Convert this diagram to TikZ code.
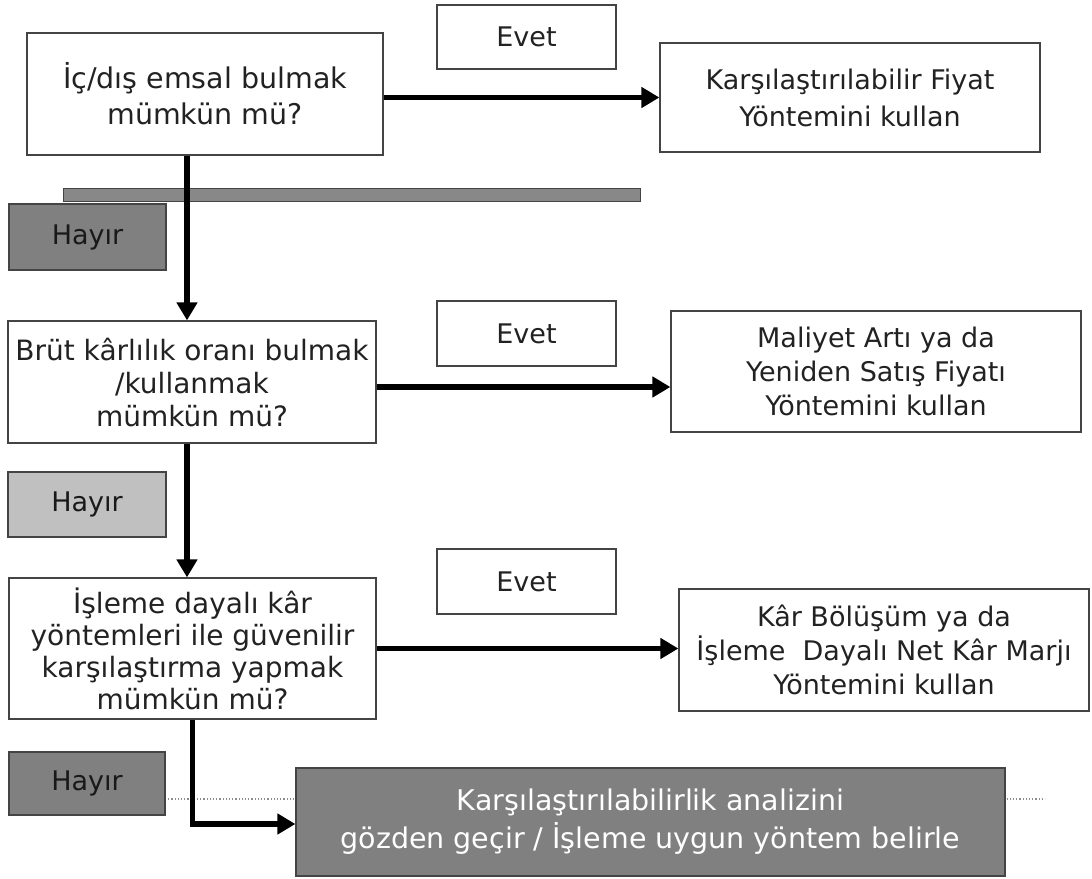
\documentclass[tikz,border=0pt]{standalone}
\usepackage{fontspec}
\setmainfont{DejaVu Sans}
\usetikzlibrary{arrows.meta}
\definecolor{txt}{HTML}{222222}
\definecolor{edge}{HTML}{444444}
\definecolor{darkg}{HTML}{808080}
\definecolor{barg}{HTML}{888888}
\definecolor{lightg}{HTML}{C0C0C0}
\tikzset{
  box/.style={draw=edge, line width=1.2pt, fill=white, text=txt, align=center,
    inner sep=0pt, font=\fontsize{28}{33}\selectfont},
  labelbox/.style={draw=edge, line width=1.2pt, fill=white, text=txt, align=center,
    inner sep=0pt, font=\fontsize{27}{32}\selectfont},
  nobox/.style={labelbox, fill=darkg, text=black!90},
  arr/.style={line width=5.5pt, draw=black, -{Triangle[length=18pt,width=20pt]}},
}
\begin{document}
\begin{tikzpicture}[x=1pt,y=-1pt]
\useasboundingbox[fill=white] (0,0) rectangle (1092,878);

% separator bar
\node[draw=edge, line width=0.8pt, fill=barg, minimum width=577pt, minimum height=13pt, inner sep=0pt] (bar) at (351.5,195) {};

% dotted guide line
\coordinate (dotL) at (165,799);
\coordinate (dotR) at (1045,799);
\draw[black!45, line width=1.2pt, dotted] (dotL) -- (dotR);

% question boxes
\node[box, minimum width=356pt, minimum height=122pt, font=\fontsize{28.5}{36}\selectfont] (q1) at (205,94)
  {İç/dış emsal bulmak\\mümkün mü?};
\node[box, minimum width=368pt, minimum height=122pt] (q2) at (192,382)
  {Brüt kârlılık oranı bulmak\\/kullanmak\\mümkün mü?};
\node[box, minimum width=367pt, minimum height=141pt, font=\fontsize{28}{32}\selectfont] (q3) at (192.5,648.5)
  {İşleme dayalı kâr\\yöntemleri ile güvenilir\\karşılaştırma yapmak\\mümkün mü?};

% Evet labels
\node[labelbox, minimum width=179pt, minimum height=64pt] (e1) at (526.5,37) {Evet};
\node[labelbox, minimum width=179pt, minimum height=65pt] (e2) at (526.5,333.5) {Evet};
\node[labelbox, minimum width=179pt, minimum height=65pt] (e3) at (526.5,581.5) {Evet};

% Hayır labels
\node[nobox, minimum width=157pt, minimum height=66pt] (h1) at (87.5,237) {Hayır};
\node[nobox, fill=lightg, minimum width=158pt, minimum height=65pt] (h2) at (87,504.5) {Hayır};
\node[nobox, minimum width=156pt, minimum height=63pt] (h3) at (87,783.5) {Hayır};

% result boxes
\node[labelbox, minimum width=380pt, minimum height=109pt, font=\fontsize{27}{37}\selectfont] (r1) at (850,97.5)
  {Karşılaştırılabilir Fiyat\\Yöntemini kullan};
\node[labelbox, minimum width=410pt, minimum height=121pt, font=\fontsize{27}{34}\selectfont] (r2) at (876,371.5)
  {Maliyet Artı ya da\\Yeniden Satış Fiyatı\\Yöntemini kullan};
\node[labelbox, minimum width=410pt, minimum height=122pt, font=\fontsize{27}{34}\selectfont] (r3) at (884,650)
  {Kâr Bölüşüm ya da\\İşleme\ \ Dayalı Net Kâr Marjı\\Yöntemini kullan};

% final box
\node[draw=edge, line width=1.2pt, fill=darkg, text=white, align=center, inner sep=0pt,
  minimum width=709pt, minimum height=108pt, font=\fontsize{28.5}{38}\selectfont] (fin) at (650.5,822)
  {Karşılaştırılabilirlik analizini\\gözden geçir / İşleme uygun yöntem belirle};

% connectors
\draw[arr] (q1.east |- r1.west) -- (r1.west);
\draw[arr] ([yshift=-5pt]q2.east) -- ([yshift=-5pt]q2.east -| r2.west);
\draw[arr] (q3.east) -- (q3.east -| r3.west);
\draw[arr] ([xshift=-18pt]q1.south) -- ([xshift=-18pt]q1.south |- q2.north);
\draw[arr] ([xshift=-5pt]q2.south) -- ([xshift=-5pt]q2.south |- q3.north);
\draw[arr] (q3.south) -- ([yshift=-2pt]q3.south |- fin.west) -- ([yshift=-2pt]fin.west);
\end{tikzpicture}
\end{document}
